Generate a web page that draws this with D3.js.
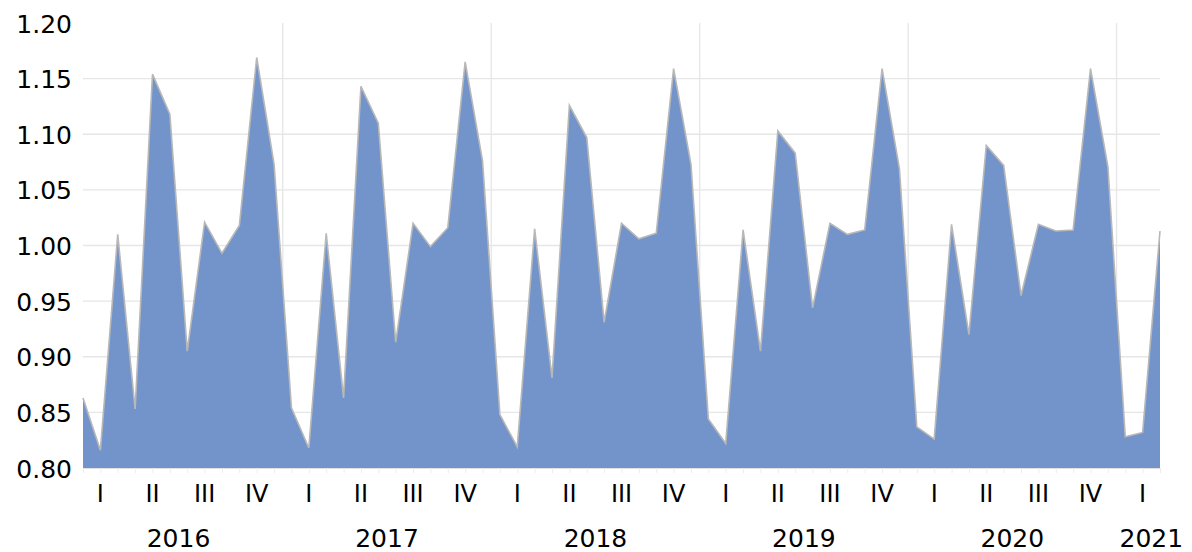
<!DOCTYPE html>
<html>
<head>
<meta charset="utf-8">
<script src="https://cdn.jsdelivr.net/npm/d3@7"></script>
<style>
  html, body { margin: 0; padding: 0; background: #fff; }
  svg text { font-family: "DejaVu Sans", Verdana, sans-serif; fill: #000; }
</style>
</head>
<body>
<div id="chart"></div>
<script>
// monthly values, Jan 2016 .. Mar 2021
var years = ["2016", "2017", "2018", "2019", "2020", "2021"];
var quarters = ["I", "II", "III", "IV"];
var values = [
  0.863, 0.816, 1.010, 0.853, 1.154, 1.118, 0.905, 1.021, 0.993, 1.018, 1.169, 1.073,
  0.854, 0.818, 1.011, 0.863, 1.143, 1.110, 0.913, 1.020, 0.999, 1.016, 1.165, 1.076,
  0.848, 0.819, 1.015, 0.881, 1.126, 1.097, 0.931, 1.020, 1.006, 1.011, 1.159, 1.073,
  0.844, 0.822, 1.014, 0.905, 1.103, 1.083, 0.944, 1.020, 1.010, 1.014, 1.159, 1.069,
  0.837, 0.826, 1.019, 0.920, 1.090, 1.072, 0.955, 1.019, 1.013, 1.014, 1.159, 1.071,
  0.828, 0.832, 1.013
];
var yTicks = [0.80, 0.85, 0.90, 0.95, 1.00, 1.05, 1.10, 1.15, 1.20];

var W = 1192, H = 552;
var margin = { top: 23, right: 32, bottom: 84, left: 83 };
var innerW = W - margin.left - margin.right;
var innerH = H - margin.top - margin.bottom;

var data = values.map(function(v, i) { return { i: i, v: v }; });

var x = d3.scaleLinear()
  .domain([0, values.length - 1])
  .range([0, innerW]);
var y = d3.scaleLinear()
  .domain([0.80, 1.20])
  .range([innerH, 0]);

var svg = d3.select("#chart").append("svg")
  .attr("width", W)
  .attr("height", H);
var g = svg.append("g")
  .attr("transform", "translate(" + margin.left + "," + margin.top + ")");

// horizontal gridlines (no line drawn at the top value)
g.append("g").selectAll("line")
  .data(yTicks.slice(1, -1))
  .enter().append("line")
  .attr("x1", 0).attr("x2", innerW)
  .attr("y1", function(d) { return y(d); })
  .attr("y2", function(d) { return y(d); })
  .attr("stroke", "#e6e6e6")
  .attr("stroke-width", 1.3);

// vertical gridlines between years
var yearBreaks = d3.range(12, values.length, 12).map(function(i) { return i - 0.5; });
g.append("g").selectAll("line")
  .data(yearBreaks)
  .enter().append("line")
  .attr("x1", function(d) { return x(d); })
  .attr("x2", function(d) { return x(d); })
  .attr("y1", 0).attr("y2", innerH)
  .attr("stroke", "#e6e6e6")
  .attr("stroke-width", 1.3);

var area = d3.area()
  .x(function(d) { return x(d.i); })
  .y0(innerH)
  .y1(function(d) { return y(d.v); });

g.append("path")
  .datum(data)
  .attr("d", area)
  .attr("fill", "#7394cb");

var line = d3.line()
  .x(function(d) { return x(d.i); })
  .y(function(d) { return y(d.v); });

g.append("path")
  .datum(data)
  .attr("d", line)
  .attr("fill", "none")
  .attr("stroke", "#b8b8b8")
  .attr("stroke-width", 1.6)
  .attr("stroke-linejoin", "miter");

// y axis labels
var yAxis = g.append("g")
  .call(d3.axisLeft(y).tickValues(yTicks).tickFormat(d3.format(".2f")).tickSize(0).tickPadding(11));
yAxis.select(".domain").remove();
yAxis.selectAll("text")
  .style("font-size", "25px")
  .attr("dy", "0.36em");

// x axis: small month ticks
var xAxis = g.append("g")
  .attr("transform", "translate(0," + innerH + ")")
  .call(d3.axisBottom(x).tickValues(d3.range(values.length)).tickSize(5).tickFormat(""));
xAxis.select(".domain").attr("stroke", "#e0e0e0");
xAxis.selectAll(".tick line").attr("stroke", "#ececec");

// quarter labels, centred on the middle month of each quarter
var qData = d3.range(0, values.length, 3).map(function(start) {
  return { label: quarters[(start / 3) % 4], mid: start + 1 };
});
g.append("g").selectAll("text")
  .data(qData)
  .enter().append("text")
  .attr("x", function(d) { return x(d.mid); })
  .attr("y", innerH + 34)
  .attr("text-anchor", "middle")
  .style("font-size", "24px")
  .text(function(d) { return d.label; });

// year labels
var yData = years.map(function(yr, k) {
  var first = k * 12;
  var last = Math.min(first + 11, values.length - 1);
  var mid = (first + last) / 2;
  if (last - first < 11) mid += 0.5; // partial year sits a bit right in the original
  return { label: yr, mid: mid };
});
g.append("g").selectAll("text")
  .data(yData)
  .enter().append("text")
  .attr("x", function(d) { return x(d.mid); })
  .attr("y", innerH + 79)
  .attr("text-anchor", "middle")
  .style("font-size", "25px")
  .text(function(d) { return d.label; });
</script>
</body>
</html>
